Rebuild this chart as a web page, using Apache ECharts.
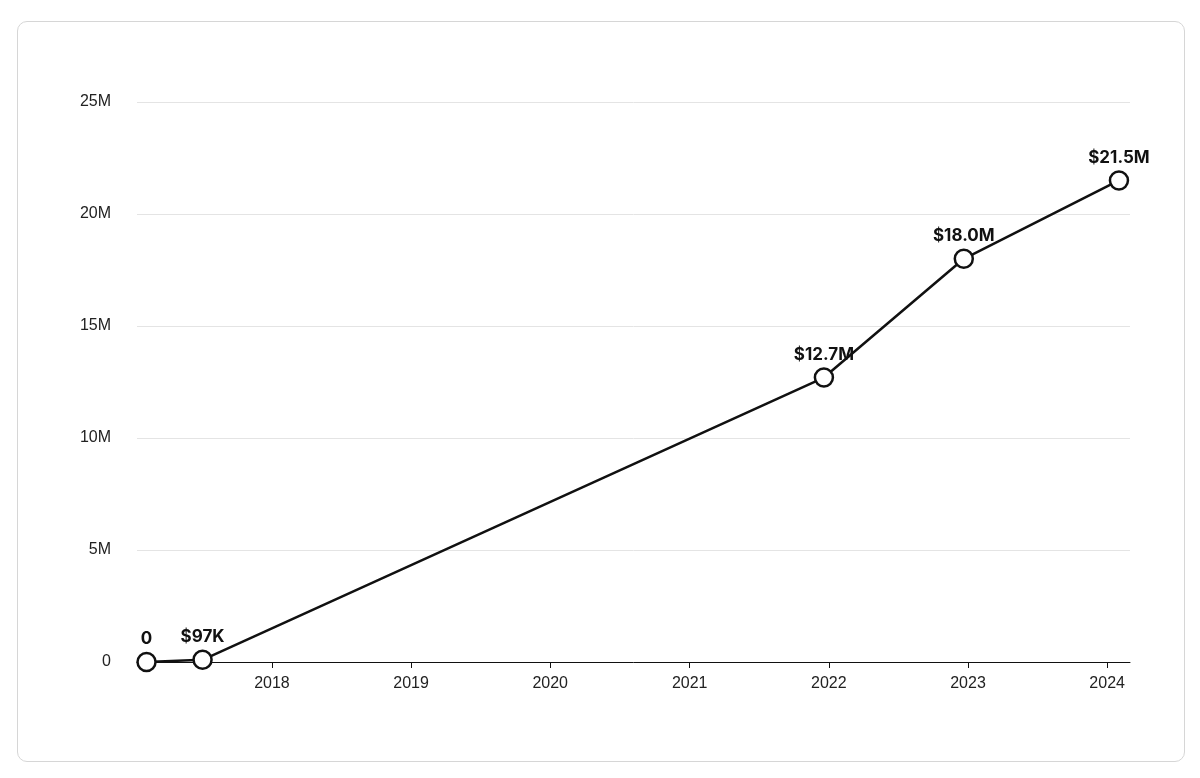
<!DOCTYPE html>
<html>
<head>
<meta charset="utf-8">
<script src="https://cdn.jsdelivr.net/npm/echarts@6/dist/echarts.min.js"></script>
<style>
html,body{margin:0;padding:0;background:#fff;}
#card{position:absolute;left:17px;top:21px;width:1166px;height:739px;border:1px solid #d6d6d6;border-radius:10px;}
#main{position:absolute;left:0;top:0;width:1200px;height:778px;}
</style>
</head>
<body>
<div id="card"></div>
<div id="main"></div>
<script>
var dates = ['2017-02-06', '2017-07-03', '2021-12-19', '2022-12-21', '2024-02-01'];
var values = [0, 97000, 12700000, 18000000, 21500000];
var labels = ['0', '$97K', '$12.7M', '$18.0M', '$21.5M'];

var myChart = echarts.init(document.getElementById('main'));
var option = {
    animation: false,
    grid: {left: 137, right: 70, top: 102, bottom: 116},
    xAxis: {
        type: 'time',
        min: '2017-01-12',
        max: '2024-03-01',
        splitNumber: 7,
        axisLine: {lineStyle: {color: '#111', width: 1}},
        axisTick: {show: true, length: 6, lineStyle: {color: '#111'}},
        splitLine: {show: false},
        axisLabel: {
            formatter: '{yyyy}',
            color: '#222',
            fontSize: 16,
            margin: 14,
            fontFamily: 'Helvetica, Arial, sans-serif'
        }
    },
    yAxis: {
        type: 'value',
        min: 0,
        max: 25000000,
        interval: 5000000,
        axisLine: {show: false},
        axisTick: {show: false},
        splitLine: {lineStyle: {color: '#e4e4e4'}},
        axisLabel: {
            formatter: function (v) { return v === 0 ? '0' : (v / 1000000) + 'M'; },
            color: '#222',
            fontSize: 16,
            margin: 26,
            fontFamily: 'Helvetica, Arial, sans-serif'
        }
    },
    series: [{
        type: 'line',
        data: dates.map(function (d, i) { return [d, values[i]]; }),
        symbol: 'circle',
        symbolSize: 18,
        lineStyle: {color: '#111', width: 2.5},
        itemStyle: {color: '#fff', borderColor: '#111', borderWidth: 2.5},
        label: {
            show: true,
            position: 'top',
            distance: 4,
            formatter: function (p) { return labels[p.dataIndex]; },
            color: '#111',
            fontSize: 17,
            fontWeight: 'bold',
            letterSpacing: -1,
            fontFamily: 'Inter, sans-serif'
        }
    }]
};
myChart.setOption(option);
</script>
</body>
</html>
